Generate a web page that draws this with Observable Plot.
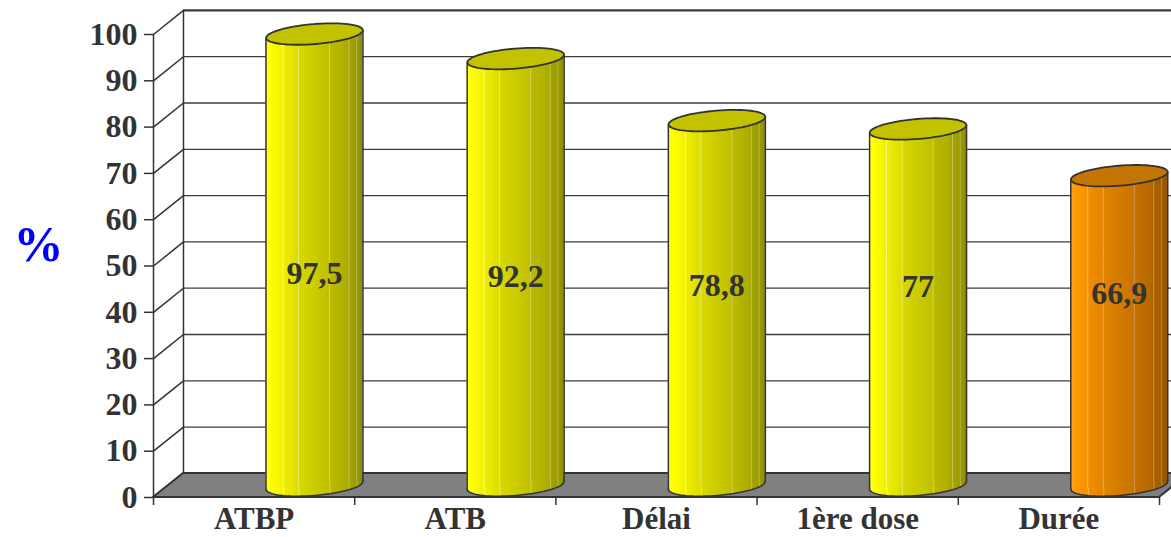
<!DOCTYPE html>
<html>
<head>
<meta charset="utf-8">
<script src="https://cdn.jsdelivr.net/npm/d3@7"></script>
<script src="https://cdn.jsdelivr.net/npm/@observablehq/plot@0.6"></script>
<style>
  html, body { margin: 0; padding: 0; background: #fff; }
</style>
</head>
<body>
<div id="chart"></div>
<script>
// ---- Data ----
const categories = ["ATBP", "ATB", "Délai", "1ère dose", "Durée"];
const values = [97.5, 92.2, 78.8, 77, 66.9];
const yTicks = [0, 10, 20, 30, 40, 50, 60, 70, 80, 90, 100];
const yLabel = "%";
const highlighted = "Durée";

// ---- 3D geometry constants (in scale units) ----
const DEPTH_X = 0.149;   // back wall offset along x (category units)
const DEPTH_Y = 5.2;     // back wall offset along y (% units)
const MID_Y = DEPTH_Y / 2;
const CYL_SHIFT = 0.30;  // cylinder shift to the right within the band
const CYL_HALF = 0.241;  // half width of a cylinder (category units)
const TILT = 0.86;       // perspective tilt of the ellipses (% units)
const LABEL_BASE = 31.8, LABEL_SLOPE = 0.143;

const bars = categories.map((c, i) => ({cat: c, i, value: values[i], hl: c === highlighted}));
const cx = d => d.i + 0.5 + CYL_SHIFT;

const bodyPts = bars.flatMap(d => [
  {cat: d.cat, hl: d.hl, x: cx(d) - CYL_HALF, y1: MID_Y - TILT, y2: d.value + MID_Y - TILT},
  {cat: d.cat, hl: d.hl, x: cx(d) + CYL_HALF, y1: MID_Y + TILT, y2: d.value + MID_Y + TILT}
]);

const n = categories.length;
const floorPts = [
  {x: 0, y1: 0, y2: 0},
  {x: DEPTH_X, y1: 0, y2: DEPTH_Y},
  {x: n, y1: 0, y2: DEPTH_Y},
  {x: n + DEPTH_X, y1: DEPTH_Y, y2: DEPTH_Y}
];

// ellipse symbol (tilted)
function ellipseSymbol(rx, ry, deg) {
  const th = deg * Math.PI / 180, c = Math.cos(th), s = Math.sin(th);
  return {
    draw(ctx) {
      const N = 72;
      for (let k = 0; k <= N; ++k) {
        const t = 2 * Math.PI * k / N;
        const ex = rx * Math.cos(t), ey = ry * Math.sin(t);
        const px = ex * c - ey * s, py = ex * s + ey * c;
        if (k === 0) ctx.moveTo(px, py); else ctx.lineTo(px, py);
      }
      ctx.closePath();
    }
  };
}
const ell = ellipseSymbol(48.5, 10, -4.7);

const defs = () => {
  const g = document.createElementNS("http://www.w3.org/2000/svg", "defs");
  g.innerHTML = `
  <linearGradient id="gY" x1="0" x2="1" y1="0" y2="0">
    <stop offset="0" stop-color="#ffff30"/>
    <stop offset="0.05" stop-color="#ffff00"/>
    <stop offset="0.17" stop-color="#f2f200"/>
    <stop offset="0.18" stop-color="#fafa70"/>
    <stop offset="0.19" stop-color="#eeee00"/>
    <stop offset="0.33" stop-color="#dddd00"/>
    <stop offset="0.34" stop-color="#e8e870"/>
    <stop offset="0.35" stop-color="#d8d800"/>
    <stop offset="0.5" stop-color="#cccc00"/>
    <stop offset="0.65" stop-color="#c0c000"/>
    <stop offset="0.66" stop-color="#d2d260"/>
    <stop offset="0.67" stop-color="#baba00"/>
    <stop offset="0.8" stop-color="#b0b000"/>
    <stop offset="0.85" stop-color="#a8a800"/>
    <stop offset="0.86" stop-color="#c2c260"/>
    <stop offset="0.87" stop-color="#a3a300"/>
    <stop offset="0.93" stop-color="#9c9c00"/>
    <stop offset="0.94" stop-color="#b5b555"/>
    <stop offset="0.95" stop-color="#999900"/>
    <stop offset="1" stop-color="#8e8e00"/>
  </linearGradient>
  <linearGradient id="gO" x1="0" x2="1" y1="0" y2="0">
    <stop offset="0" stop-color="#ffa830"/>
    <stop offset="0.05" stop-color="#ff9a00"/>
    <stop offset="0.17" stop-color="#f59200"/>
    <stop offset="0.18" stop-color="#fbb860"/>
    <stop offset="0.19" stop-color="#f08e00"/>
    <stop offset="0.33" stop-color="#e48600"/>
    <stop offset="0.34" stop-color="#eca860"/>
    <stop offset="0.35" stop-color="#e08400"/>
    <stop offset="0.5" stop-color="#d47c00"/>
    <stop offset="0.65" stop-color="#c87400"/>
    <stop offset="0.66" stop-color="#d69a55"/>
    <stop offset="0.67" stop-color="#c27000"/>
    <stop offset="0.8" stop-color="#b86a00"/>
    <stop offset="0.85" stop-color="#b06600"/>
    <stop offset="0.86" stop-color="#c69050"/>
    <stop offset="0.87" stop-color="#aa6200"/>
    <stop offset="0.93" stop-color="#a25e00"/>
    <stop offset="0.94" stop-color="#bb8650"/>
    <stop offset="0.95" stop-color="#9e5a00"/>
    <stop offset="1" stop-color="#945400"/>
  </linearGradient>`;
  return g;
};

const INK = "#333";
const fmt = v => String(v).replace(".", ",");

const chart = Plot.plot({
  width: 1171,
  height: 537,
  marginLeft: 153,
  marginRight: 12,
  marginTop: 34,
  marginBottom: 40,
  style: {
    fontFamily: "'Liberation Serif', 'Times New Roman', serif",
    fontWeight: "bold",
    fontSize: "32px",
    color: INK,
    background: "#fff"
  },
  x: {type: "linear", domain: [0, n], label: null},
  y: {domain: [0, 100], label: null},
  marks: [
    defs,
    // back wall gridlines
    Plot.ruleY(yTicks, {y: d => d + DEPTH_Y, x1: DEPTH_X, x2: n + DEPTH_X, stroke: "#3c3c3c",
      strokeWidth: d => d === 100 ? 2.2 : 1.3}),
    // back wall left edge
    Plot.ruleX([DEPTH_X], {y1: DEPTH_Y, y2: 100 + DEPTH_Y, stroke: INK, strokeWidth: 1.5}),
    // side wall diagonals
    Plot.link(yTicks, {x1: 0, y1: d => d, x2: DEPTH_X, y2: d => d + DEPTH_Y, stroke: INK, strokeWidth: 1.5}),
    // floor
    Plot.areaY(floorPts, {x: "x", y1: "y1", y2: "y2", curve: "linear", fill: "#808080", stroke: INK, strokeWidth: 2}),
    // front y axis line
    Plot.ruleX([0], {y1: 0, y2: 100, stroke: INK, strokeWidth: 1.5}),
    Plot.axisY({ticks: yTicks, tickSize: 9, tickPadding: 7, stroke: INK, strokeWidth: 1.5, fontSize: 32, fill: INK}),
    Plot.axisX({ticks: d3.range(n + 1), tickSize: 8, tickFormat: () => "", stroke: INK, strokeWidth: 1.5}),
    Plot.axisX({ticks: bars.map(d => d.i + 0.5), tickSize: 0, tickPadding: 9,
      tickFormat: v => categories[Math.floor(v)], fontSize: 31, fill: INK}),
    // cylinders: bottom ellipses
    Plot.dot(bars, {x: cx, y: MID_Y, symbol: ell, fill: d => d.hl ? "url(#gO)" : "url(#gY)", stroke: INK, strokeWidth: 1.5}),
    // bodies
    Plot.areaY(bodyPts.filter(d => !d.hl), {x: "x", y1: "y1", y2: "y2", z: "cat", curve: "linear", fill: "url(#gY)"}),
    Plot.areaY(bodyPts.filter(d => d.hl), {x: "x", y1: "y1", y2: "y2", z: "cat", curve: "linear", fill: "url(#gO)"}),
    // body side edges
    Plot.link(bars, {x1: d => cx(d) - CYL_HALF, x2: d => cx(d) - CYL_HALF, y1: MID_Y - TILT, y2: d => d.value + MID_Y - TILT, stroke: INK, strokeWidth: 1.5}),
    Plot.link(bars, {x1: d => cx(d) + CYL_HALF, x2: d => cx(d) + CYL_HALF, y1: MID_Y + TILT, y2: d => d.value + MID_Y + TILT, stroke: INK, strokeWidth: 1.5}),
    // top ellipses
    Plot.dot(bars, {x: cx, y: d => d.value + MID_Y, symbol: ell, fill: d => d.hl ? "#c47400" : "#c2c200", stroke: INK, strokeWidth: 1.8}),
    // value labels
    Plot.text(bars, {x: cx, y: d => LABEL_BASE + LABEL_SLOPE * d.value + MID_Y, text: d => fmt(d.value),
      fontSize: 32, fontWeight: "bold", fill: INK}),
    // y label
    Plot.text([yLabel], {frameAnchor: "left", dx: -115, dy: -21, textAnchor: "middle", text: d => d, fill: "#0000ff", fontSize: 50, fontWeight: "bold"})
  ]
});
document.getElementById("chart").appendChild(chart);
</script>
</body>
</html>
